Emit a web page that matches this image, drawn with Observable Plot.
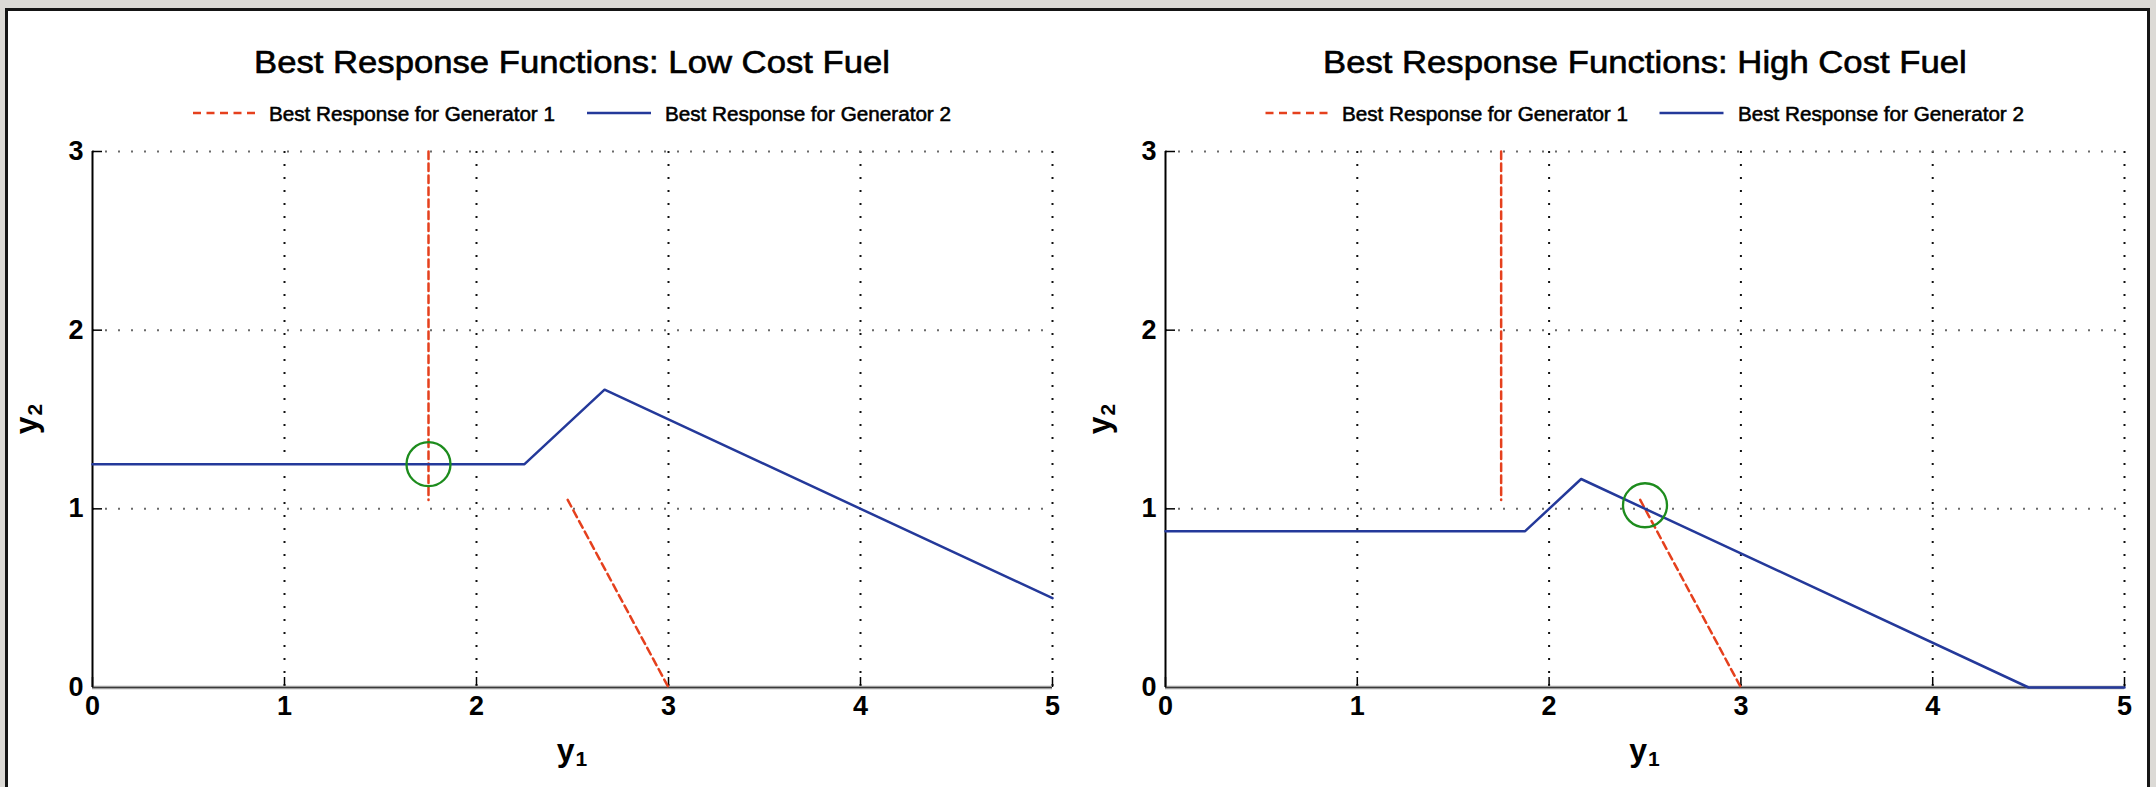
<!DOCTYPE html>
<html>
<head>
<meta charset="utf-8">
<script src="https://cdn.jsdelivr.net/npm/d3@7"></script>
<script src="https://cdn.jsdelivr.net/npm/@observablehq/plot@0.6"></script>
<style>
html, body { margin: 0; padding: 0; }
body { width: 2156px; height: 787px; overflow: hidden; position: relative;
  background: #dcdad6; font-family: "Liberation Sans", Arial, sans-serif; }
#panel { position: absolute; left: 5px; top: 8px; width: 2145px; height: 800px;
  background: #fff; border: 3px solid #151515; box-sizing: border-box; }
.abs { position: absolute; white-space: nowrap; color: #000; }
.title { font-size: 31px; line-height: 31px; transform-origin: 0 0; -webkit-text-stroke: 0.6px #000; }
.leg { font-size: 20px; line-height: 20px; transform-origin: 0 0; -webkit-text-stroke: 0.55px #000; }
.axlab { font-size: 32px; font-weight: bold; line-height: 32px; }
.axlab sub { font-size: 21px; position: relative; top: 5px; vertical-align: baseline; margin-left: 1px; }
.plotbox { position: absolute; top: 130px; }
</style>
</head>
<body>
<div id="panel"></div>
<div id="root"></div>
<script>
// ---------- data ----------
const xTicks = [0, 1, 2, 3, 4, 5];
const yTicks = [0, 1, 2, 3];
const xGrid = [1, 2, 3, 4, 5];
const yGrid = [1, 2, 3];

const titles = ["Best Response Functions: Low Cost Fuel", "Best Response Functions: High Cost Fuel"];
const legendLabels = ["Best Response for Generator 1", "Best Response for Generator 2"];

// Low cost fuel
const lowGen1X = [1.75, 1.75, 2.475, 3];
const lowGen1Y = [3, 1.05, 1.05, 0];
const lowGen1Seg = [0, 0, 1, 1];
const lowGen2X = [0, 2.25, 2.667, 5];
const lowGen2Y = [1.25, 1.25, 1.667, 0.5];
const lowEqX = [1.75];
const lowEqY = [1.25];

// High cost fuel
const highGen1X = [1.75, 1.75, 2.475, 3];
const highGen1Y = [3, 1.05, 1.05, 0];
const highGen1Seg = [0, 0, 1, 1];
const highGen2X = [0, 1.875, 2.167, 4.5, 5];
const highGen2Y = [0.875, 0.875, 1.167, 0, 0];
const highEqX = [2.5];
const highEqY = [1.02];

// ---------- styles ----------
const RED = "#e5401d", BLUE = "#24399a", GREEN = "#1d8c1d";
const FONT = "Liberation Sans, Arial, sans-serif";

function makePlot(cfg) {
  const W = 1078, H = 657, MT = 21, MB = 100;
  const plotH = H - MT - MB, plotW = W - cfg.ml - cfg.mr;
  const g1 = cfg.g1x.map((x, i) => ({x, y: cfg.g1y[i], s: cfg.g1s[i]}));
  const g2 = cfg.g2x.map((x, i) => ({x, y: cfg.g2y[i]}));
  const eq = cfg.eqx.map((x, i) => ({x, y: cfg.eqy[i]}));
  return Plot.plot({
    width: W, height: H,
    marginLeft: cfg.ml, marginRight: cfg.mr, marginTop: MT, marginBottom: MB,
    x: {domain: [0, 5], axis: null},
    y: {domain: [0, 3], axis: null},
    style: {background: "transparent", fontFamily: FONT, overflow: "visible"},
    marks: [
      Plot.ruleX(xGrid, {x: d => d, stroke: "#111", strokeWidth: 2, strokeDasharray: "2,11"}),
      Plot.ruleY(yGrid, {y: d => d, stroke: "#6a6a6a", strokeWidth: 2, strokeDasharray: "2,11"}),
      Plot.tickX(xTicks, {x: d => d, insetTop: plotH - 10, stroke: "#000", strokeWidth: 1.5}),
      Plot.tickY(yTicks, {y: d => d, insetRight: plotW - 10, stroke: "#000", strokeWidth: 1.5}),
      Plot.ruleY([0], {stroke: "#9c9c9c", strokeWidth: 3.5}),
      Plot.ruleY([0], {stroke: "#3a3a3a", strokeWidth: 1}),
      Plot.ruleX([0], {y1: 0, y2: 3, stroke: "#000", strokeWidth: 2}),
      Plot.line(g1, {x: "x", y: "y", z: "s", stroke: RED, strokeWidth: 2.5, strokeDasharray: "7.5,4.5"}),
      Plot.line(g2, {x: "x", y: "y", stroke: BLUE, strokeWidth: 2.5}),
      Plot.dot(eq, {x: "x", y: "y", r: 22, stroke: GREEN, strokeWidth: 2.3, fill: "none"}),
      Plot.text(xTicks, {x: d => d, frameAnchor: "bottom", dy: 27, text: d => String(d),
        fontSize: 27, fontWeight: "bold", fill: "#000"}),
      Plot.text(yTicks, {y: d => d, frameAnchor: "left", dx: -9, textAnchor: "end", text: d => String(d),
        fontSize: 27, fontWeight: "bold", fill: "#000"})
    ]
  });
}

const root = document.getElementById("root");
const panels = [
  {left: 0, ml: 92, mr: 26, g1x: lowGen1X, g1y: lowGen1Y, g1s: lowGen1Seg, g2x: lowGen2X, g2y: lowGen2Y, eqx: lowEqX, eqy: lowEqY},
  {left: 1078, ml: 87, mr: 32, g1x: highGen1X, g1y: highGen1Y, g1s: highGen1Seg, g2x: highGen2X, g2y: highGen2Y, eqx: highEqX, eqy: highEqY}
];

function addText(cls, text, html) {
  const d = document.createElement("div");
  d.className = "abs " + cls;
  if (html) d.innerHTML = text; else d.textContent = text;
  root.appendChild(d);
  return d;
}

// measure one title / legend text to get horizontal stretch factors
const TITLE_W = 636, LEG_W = 286;
const probeT = addText("title", titles[0]);
const titleScale = TITLE_W / probeT.getBoundingClientRect().width;
probeT.remove();
const probeL = addText("leg", legendLabels[0]);
const legScale = LEG_W / probeL.getBoundingClientRect().width;
probeL.remove();

panels.forEach((p, i) => {
  const box = document.createElement("div");
  box.className = "plotbox";
  box.style.left = p.left + "px";
  box.appendChild(makePlot(p));
  root.appendChild(box);

  const x0 = p.left + p.ml, x1 = p.left + 1078 - p.mr;
  const cx = (x0 + x1) / 2;

  // title
  const t = addText("title", titles[i]);
  const tw = t.getBoundingClientRect().width * titleScale;
  t.style.left = (cx - tw / 2) + "px";
  t.style.top = (73 - 0.8465 * 31) + "px";
  t.style.transform = `scaleX(${titleScale})`;

  // legend
  const lineW1 = 62, lineW2 = 64, gap = 14, gapMid = 32;
  const w1 = addText("leg", legendLabels[0]);
  const w2 = addText("leg", legendLabels[1]);
  const tw1 = w1.getBoundingClientRect().width * legScale;
  const tw2 = w2.getBoundingClientRect().width * legScale;
  const total = lineW1 + gap + tw1 + gapMid + lineW2 + gap + tw2;
  let lx = cx - total / 2;
  const ly = 113;
  const sw = document.createElementNS("http://www.w3.org/2000/svg", "svg");
  sw.setAttribute("width", 2156); sw.setAttribute("height", 20);
  sw.style.position = "absolute"; sw.style.left = "0px"; sw.style.top = (ly - 10) + "px";
  const mk = (xa, xb, color, dash) => {
    const l = document.createElementNS("http://www.w3.org/2000/svg", "line");
    l.setAttribute("x1", xa); l.setAttribute("x2", xb); l.setAttribute("y1", 10); l.setAttribute("y2", 10);
    l.setAttribute("stroke", color); l.setAttribute("stroke-width", 2.5);
    if (dash) l.setAttribute("stroke-dasharray", dash);
    sw.appendChild(l);
  };
  mk(lx, lx + lineW1, RED, "8,5.5");
  lx += lineW1 + gap;
  w1.style.left = lx + "px"; w1.style.top = (121 - 0.8465 * 20) + "px"; w1.style.transform = `scaleX(${legScale})`;
  lx += tw1 + gapMid;
  mk(lx, lx + lineW2, BLUE, null);
  lx += lineW2 + gap;
  w2.style.left = lx + "px"; w2.style.top = (121 - 0.8465 * 20) + "px"; w2.style.transform = `scaleX(${legScale})`;
  root.appendChild(sw);

  // x label
  const xl = addText("axlab", "y<sub>1</sub>", true);
  xl.style.left = cx + "px"; xl.style.top = "752px";
  xl.style.transform = "translate(-50%, -50%)";

  // y label
  const yl = addText("axlab", "y<sub>2</sub>", true);
  yl.style.left = (x0 - 64) + "px"; yl.style.top = "419px";
  yl.style.transform = "translate(-50%, -50%) rotate(-90deg)";
});
</script>
</body>
</html>
